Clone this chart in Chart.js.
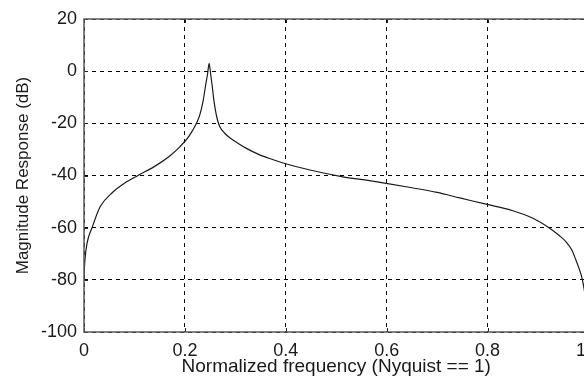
<!DOCTYPE html>
<html>
<head>
<meta charset="utf-8">
<script src="https://cdn.jsdelivr.net/npm/chart.js@4/dist/chart.umd.min.js"></script>
<style>
  html, body { margin: 0; padding: 0; background: #fff; overflow: hidden; width: 584px; height: 383px; }
  #wrap { width: 609px; height: 383px; }
  canvas { display: block; }
</style>
</head>
<body>
<div id="wrap"><canvas id="c" width="609" height="383"></canvas></div>
<script>
// Normalized frequency samples
const freq = [0, 0.002, 0.006, 0.016, 0.032, 0.057, 0.08, 0.107, 0.14, 0.17, 0.19, 0.205, 0.215, 0.223, 0.23, 0.236, 0.241, 0.245, 0.248, 0.251, 0.254, 0.257, 0.261, 0.265, 0.27, 0.278, 0.289, 0.305, 0.322, 0.345, 0.368, 0.398, 0.45, 0.513, 0.56, 0.599, 0.65, 0.7, 0.745, 0.797, 0.85, 0.89, 0.923, 0.942, 0.956, 0.967, 0.975, 0.982, 0.988, 0.994, 1.0];
// Magnitude response (dB)
const magnitude = [-78, -72, -66, -60, -52, -46.4, -43, -40, -36.5, -32.5, -29, -25.8, -22.8, -20, -16.5, -11.5, -5.5, -1, 3, -1, -5.5, -10.5, -15.5, -19, -21.6, -23.6, -25.5, -27.6, -29.6, -31.8, -33.5, -35.4, -38, -40.5, -41.8, -43, -44.7, -46.5, -48.6, -51, -53.5, -56.4, -60.2, -63, -65.5, -68.6, -72.4, -76, -80, -87, -100];
// Axis ticks
const xTicks = [0, 0.2, 0.4, 0.6, 0.8, 1];
const yTicks = [-100, -80, -60, -40, -20, 0, 20];
const xTitle = 'Normalized frequency (Nyquist == 1)';
const yTitle = 'Magnitude Response (dB)';

const points = freq.map((f, i) => ({ x: f, y: magnitude[i] }));

const framePlugin = {
  id: 'frame',
  afterDraw(chart) {
    const { ctx, chartArea: a, scales } = chart;
    ctx.save();
    ctx.strokeStyle = '#222';
    ctx.lineWidth = 1;
    const tl = 4;
    scales.x.ticks.forEach(t => {
      const px = Math.round(scales.x.getPixelForValue(t.value)) + 0.5;
      ctx.beginPath();
      ctx.moveTo(px, a.bottom); ctx.lineTo(px, a.bottom - tl);
      ctx.moveTo(px, a.top); ctx.lineTo(px, a.top + tl);
      ctx.stroke();
    });
    scales.y.ticks.forEach(t => {
      const py = Math.round(scales.y.getPixelForValue(t.value)) + 0.5;
      ctx.beginPath();
      ctx.moveTo(a.left, py); ctx.lineTo(a.left + tl, py);
      ctx.moveTo(a.right, py); ctx.lineTo(a.right - tl, py);
      ctx.stroke();
    });
    ctx.strokeStyle = '#5a5a5a';
    ctx.lineWidth = 1.5;
    ctx.strokeRect(a.left, a.top, a.right - a.left, a.bottom - a.top);
    ctx.restore();
  }
};

new Chart(document.getElementById('c'), {
  type: 'line',
  data: {
    datasets: [{
      data: points,
      borderColor: '#1a1a1a',
      borderWidth: 1.2,
      pointRadius: 0,
      fill: false,
      cubicInterpolationMode: 'monotone'
    }]
  },
  options: {
    responsive: false,
    animation: false,
    events: [],
    layout: { padding: { left: 0, right: 13, top: 19, bottom: 0 } },
    plugins: { legend: { display: false }, tooltip: { enabled: false } },
    scales: {
      x: {
        type: 'linear',
        min: 0, max: 1,
        afterBuildTicks: s => { s.ticks = xTicks.map(v => ({ value: v })); },
        afterFit: s => { s.height = 51; },
        grid: { color: '#000', lineWidth: 1, drawTicks: false },
        border: { display: false, dash: [4, 4] },
        ticks: { padding: 8, color: '#1a1a1a', maxRotation: 0, font: { family: 'Liberation Sans, Arial, sans-serif', size: 18 } },
        title: { display: true, text: xTitle, color: '#1a1a1a', padding: { top: 0, bottom: 5 }, font: { family: 'Liberation Sans, Arial, sans-serif', size: 19 } }
      },
      y: {
        type: 'linear',
        min: -100, max: 20,
        afterBuildTicks: s => { s.ticks = yTicks.map(v => ({ value: v })); },
        afterFit: s => { s.width = 84; },
        grid: { color: '#000', lineWidth: 1, drawTicks: false },
        border: { display: false, dash: [4, 4] },
        ticks: { padding: 7, color: '#1a1a1a', font: { family: 'Liberation Sans, Arial, sans-serif', size: 18 } },
        title: { display: true, text: yTitle, color: '#1a1a1a', padding: { top: 13, bottom: 0 }, font: { family: 'Liberation Sans, Arial, sans-serif', size: 17 } }
      }
    }
  },
  plugins: [framePlugin]
});
</script>
</body>
</html>
